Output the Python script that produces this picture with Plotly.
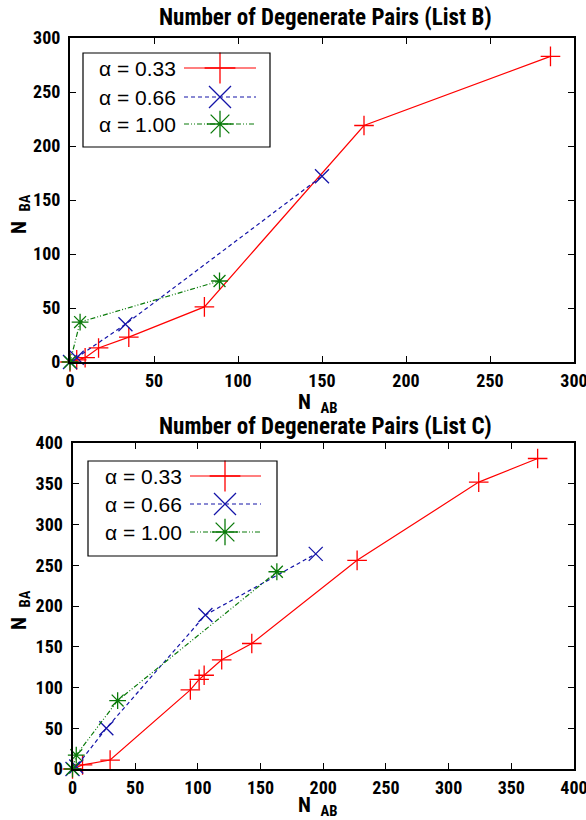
import plotly.graph_objects as go

# ---------------- data ----------------
# List B
b033_x = [0, 4, 9, 17, 35, 80, 175, 286]
b033_y = [0, 2, 4, 13, 23, 51, 219, 283]
b066_x = [0, 4, 33, 150]
b066_y = [0, 4, 35, 172]
b100_x = [0, 6, 89]
b100_y = [0, 37, 75]
# List C
c033_x = [0, 8, 30, 94, 101, 105, 119, 143, 227, 324, 371]
c033_y = [0, 5, 11, 97, 110, 115, 134, 154, 256, 352, 381]
c066_x = [0, 3, 27, 106, 194]
c066_y = [0, 3, 50, 189, 264]
c100_x = [0, 3, 36, 163]
c100_y = [0, 17, 84, 242]

legend_labels = ["α = 0.33", "α = 0.66", "α = 1.00"]
titles = ["Number of Degenerate Pairs (List B)", "Number of Degenerate Pairs (List C)"]
top_ticks = [0, 50, 100, 150, 200, 250, 300]
bot_ticks = [0, 50, 100, 150, 200, 250, 300, 350, 400]

W, H = 586, 820
RED = "#ff0000"
BLUE = "#1414a8"
GREEN = "#0a7a0a"
styles = [
    dict(color=RED, dash="solid", symbol="cross-thin"),
    dict(color=BLUE, dash="4px,3px", symbol="x-thin"),
    dict(color=GREEN, dash="5px,2px,1px,2px,1px,2px", symbol="asterisk"),
]
BOLD_FONT = "Liberation Sans Narrow, Roboto Condensed, Liberation Sans, Arial"
REG_FONT = "Liberation Sans, Arial"


def px_x(p):
    return p / W


def px_y(p):
    return 1 - p / H


fig = go.Figure()

series = [
    ("x", "y", [(b033_x, b033_y), (b066_x, b066_y), (b100_x, b100_y)]),
    ("x2", "y2", [(c033_x, c033_y), (c066_x, c066_y), (c100_x, c100_y)]),
]
for xa, ya, groups in series:
    for (xs, ys), st in zip(groups, styles):
        fig.add_trace(go.Scatter(
            x=xs, y=ys, mode="lines+markers", xaxis=xa, yaxis=ya,
            line=dict(color=st["color"], width=1.2, dash=st["dash"]),
            marker=dict(symbol=st["symbol"], size=14, color=st["color"],
                        line=dict(width=1.3, color=st["color"])),
            cliponaxis=False, showlegend=False, hoverinfo="skip"))

axis_common = dict(
    showline=True, linewidth=2, linecolor="black", mirror="ticks",
    ticks="inside", ticklen=6, tickwidth=1, tickcolor="black",
    showgrid=False, zeroline=False, automargin=False, ticklabeloverflow="allow",
    tickfont=dict(family=BOLD_FONT, size=18, color="black", weight="bold"),
)

# plot areas (pixels)
top = dict(l=70, r=574, t=38, b=362)
bot = dict(l=72.5, r=574, t=443, b=769)

fig.update_layout(
    width=W, height=H, margin=dict(l=0, r=0, t=0, b=0, pad=0, autoexpand=False),
    paper_bgcolor="white", plot_bgcolor="white",
    xaxis=dict(domain=[px_x(top["l"]), px_x(top["r"])], range=[0, 300],
               tickvals=top_ticks, anchor="y", ticklabelstandoff=1, **axis_common),
    yaxis=dict(domain=[px_y(top["b"]), px_y(top["t"])], range=[0, 300],
               tickvals=top_ticks, anchor="x", ticklabelstandoff=4, **axis_common),
    xaxis2=dict(domain=[px_x(bot["l"]), px_x(bot["r"])], range=[0, 400],
                tickvals=bot_ticks, anchor="y2", ticklabelstandoff=1, **axis_common),
    yaxis2=dict(domain=[px_y(bot["b"]), px_y(bot["t"])], range=[0, 400],
                tickvals=bot_ticks, anchor="x2", ticklabelstandoff=4, **axis_common),
)

# ---------------- custom legends (gnuplot style: text left, sample right) ----------------
legends = [
    dict(xa="x3", ya="y3", box=(83, 270, 53, 147), rows=[68, 97, 124], text_x=97,
         line=(184, 256), mark=220),
    dict(xa="x4", ya="y4", box=(88, 277, 461, 556), rows=[476, 504, 532], text_x=103,
         line=(190, 261), mark=225),
]
for i, lg in enumerate(legends):
    l, r, t, b = lg["box"]
    xname = "xaxis" + lg["xa"][1:]
    yname = "yaxis" + lg["ya"][1:]
    fig.layout[xname] = dict(domain=[px_x(l), px_x(r)], range=[l, r], anchor=lg["ya"],
                             visible=False, fixedrange=True, automargin=False)
    fig.layout[yname] = dict(domain=[px_y(b), px_y(t)], range=[b, t], anchor=lg["xa"],
                             visible=False, fixedrange=True, automargin=False)
    fig.add_shape(type="rect", xref=lg["xa"] + " domain", yref=lg["ya"] + " domain",
                  x0=0, x1=1, y0=0, y1=1, line=dict(color="black", width=1.2),
                  fillcolor="rgba(0,0,0,0)")
    for lab, row, st in zip(legend_labels, lg["rows"], styles):
        fig.add_trace(go.Scatter(
            x=[lg["line"][0], lg["line"][1]], y=[row, row], mode="lines",
            xaxis=lg["xa"], yaxis=lg["ya"], showlegend=False, hoverinfo="skip",
            line=dict(color=st["color"], width=1.2, dash=st["dash"])))
        fig.add_trace(go.Scatter(
            x=[lg["mark"]], y=[row], mode="markers",
            xaxis=lg["xa"], yaxis=lg["ya"], showlegend=False, hoverinfo="skip",
            cliponaxis=False,
            marker=dict(symbol=st["symbol"], size=22, color=st["color"],
                        line=dict(width=1.3, color=st["color"]))))
        fig.add_annotation(x=lg["text_x"], y=row, xref=lg["xa"], yref=lg["ya"],
                           text=lab, showarrow=False, xanchor="left", yanchor="middle",
                           font=dict(family=REG_FONT, size=21, color="black"))

# ---------------- titles & axis labels ----------------
title_font = dict(family=BOLD_FONT, size=23, color="black", weight="bold")
lab_font = dict(family=BOLD_FONT, size=21, color="black", weight="bold")
for txt, yc in zip(titles, [17, 426]):
    fig.add_annotation(x=px_x(325), y=px_y(yc), xref="paper", yref="paper", text=txt,
                       showarrow=False, xanchor="center", yanchor="middle", font=title_font)
for yc in [403, 806]:
    fig.add_annotation(x=px_x(318), y=px_y(yc), xref="paper", yref="paper",
                       text="N&nbsp;&nbsp;<sub>AB</sub>", showarrow=False, xanchor="center",
                       yanchor="middle", font=lab_font)
for yc in [214, 610]:
    fig.add_annotation(x=px_x(20), y=px_y(yc), xref="paper", yref="paper",
                       text="N&nbsp;&nbsp;<sub>BA</sub>", showarrow=False, xanchor="center",
                       yanchor="middle", textangle=-90, font=lab_font)

fig.write_html("out.html", post_script="document.body.style.margin='0px';",
               config={"displayModeBar": False})
